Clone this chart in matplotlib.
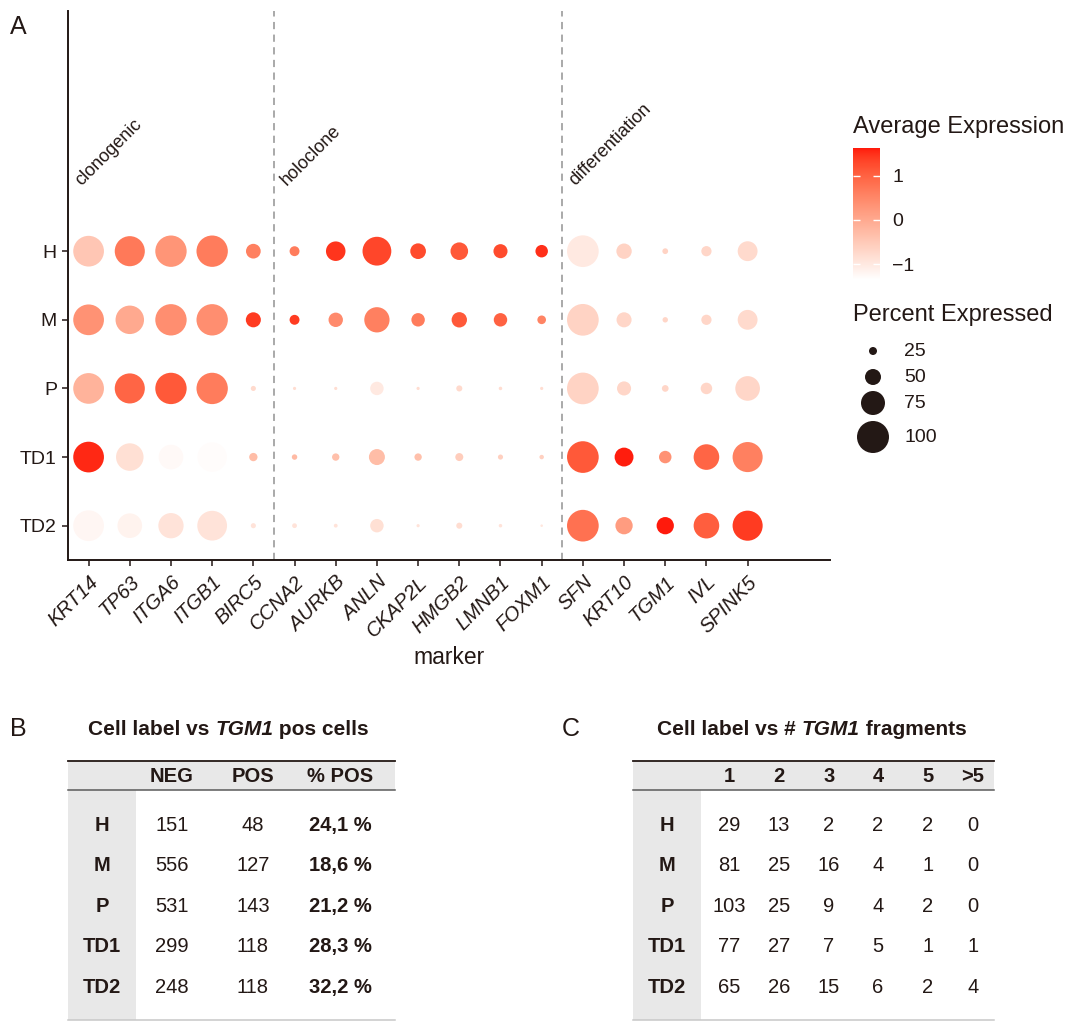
import numpy as np
import matplotlib
matplotlib.use("Agg")
import matplotlib.pyplot as plt
from matplotlib.colors import ListedColormap, Normalize
from matplotlib.patches import Rectangle
from matplotlib.colorbar import ColorbarBase

plt.rcParams["font.family"] = ["Liberation Sans", "DejaVu Sans"]
INK = "#231815"

# ---------------- Panel A data ----------------
cell_labels = ["H", "M", "P", "TD1", "TD2"]
markers = ["KRT14", "TP63", "ITGA6", "ITGB1", "BIRC5", "CCNA2", "AURKB", "ANLN",
           "CKAP2L", "HMGB2", "LMNB1", "FOXM1", "SFN", "KRT10", "TGM1", "IVL", "SPINK5"]
marker_groups = ["clonogenic", "holoclone", "differentiation"]
group_starts = [1, 6, 13]

# percent of cells expressing each marker (rows follow cell_labels)
pct_H = [96, 94, 98, 98, 46, 31, 61, 90, 49, 55, 44, 39, 99, 48, 18, 32, 62]
pct_M = [96, 89, 98, 98, 47, 31, 45, 79, 42, 48, 42, 27, 99, 47, 17, 32, 62]
pct_P = [96, 94, 98, 98, 16, 10, 10, 42, 10, 19, 11, 10, 99, 44, 21, 36, 77]
pct_TD1 = [96, 86, 77, 92, 26, 17, 23, 50, 23, 25, 16, 14, 99, 59, 39, 80, 94]
pct_TD2 = [96, 77, 79, 93, 16, 15, 12, 42, 10, 19, 11, 8, 99, 54, 54, 80, 94]

# scaled average expression
avg_H = [-0.45, 0.70, 0.30, 0.65, 0.60, 0.65, 1.45, 1.30, 1.25, 1.10, 1.25, 1.50,
         -1.00, -0.65, -0.65, -0.70, -0.75]
avg_M = [0.35, 0.00, 0.40, 0.40, 1.40, 1.40, 0.45, 0.60, 0.65, 1.10, 1.00, 0.55,
         -0.65, -0.70, -0.70, -0.70, -0.75]
avg_P = [-0.15, 0.95, 1.10, 0.65, -0.75, -0.80, -0.80, -1.00, -0.80, -0.75, -0.80, -0.80,
         -0.65, -0.70, -0.70, -0.70, -0.70]
avg_TD1 = [1.55, -0.85, -1.25, -1.30, -0.30, -0.25, -0.35, -0.30, -0.35, -0.55, -0.60, -0.60,
           1.10, 1.60, 0.35, 0.95, 0.60]
avg_TD2 = [-1.20, -1.15, -0.90, -0.90, -0.90, -0.90, -0.90, -0.85, -0.90, -0.80, -0.90, -0.95,
           0.80, 0.20, 1.65, 1.05, 1.40]

size_breaks = [25, 50, 75, 100]
color_ticks = [-1, 0, 1]
color_limits = (-1.35, 1.62)

# ---------------- Panel B data ----------------
tab_b_cols = ["NEG", "POS", "% POS"]
neg_cells = [151, 556, 531, 299, 248]
pos_cells = [48, 127, 143, 118, 118]
pct_pos = ["24,1 %", "18,6 %", "21,2 %", "28,3 %", "32,2 %"]

# ---------------- Panel C data ----------------
frag_cols = ["1", "2", "3", "4", "5", ">5"]
frag_H = [29, 13, 2, 2, 2, 0]
frag_M = [81, 25, 16, 4, 1, 0]
frag_P = [103, 25, 9, 4, 2, 0]
frag_TD1 = [77, 27, 7, 5, 1, 1]
frag_TD2 = [65, 26, 15, 6, 2, 4]


# ---------------- colour scale (Lab interpolation, white -> red) ----------------
def _to_lab(rgb):
    rgb = np.asarray(rgb, float)
    c = np.where(rgb <= 0.04045, rgb / 12.92, ((rgb + 0.055) / 1.055) ** 2.4)
    m = np.array([[0.4124, 0.3576, 0.1805], [0.2126, 0.7152, 0.0722], [0.0193, 0.1192, 0.9505]])
    xyz = m @ c / np.array([0.95047, 1.0, 1.08883])
    f = np.where(xyz > 0.008856, np.cbrt(xyz), 7.787 * xyz + 16 / 116)
    return np.array([116 * f[1] - 16, 500 * (f[0] - f[1]), 200 * (f[1] - f[2])])


def _from_lab(lab):
    L, a, b = lab
    fy = (L + 16) / 116
    fx = fy + a / 500
    fz = fy - b / 200
    f = np.array([fx, fy, fz])
    xyz = np.where(f ** 3 > 0.008856, f ** 3, (f - 16 / 116) / 7.787) * np.array([0.95047, 1.0, 1.08883])
    mi = np.array([[3.2406, -1.5372, -0.4986], [-0.9689, 1.8758, 0.0415], [0.0557, -0.2040, 1.0570]])
    c = mi @ xyz
    c = np.where(c <= 0.0031308, 12.92 * c, 1.055 * np.clip(c, 0, None) ** (1 / 2.4) - 0.055)
    return np.clip(c, 0, 1)


lo = _to_lab(matplotlib.colors.to_rgb("#FFFFFF"))
hi = _to_lab(matplotlib.colors.to_rgb("#FF1A0C"))
cmap = ListedColormap([_from_lab(lo + t * (hi - lo)) for t in np.linspace(0, 1, 256)])
norm = Normalize(*color_limits)


def dot_size(p):
    diam_pt = 0.2304 * np.asarray(p, float)
    return diam_pt ** 2


# ---------------- figure ----------------
fig = plt.figure(figsize=(10.69, 10.21), dpi=100)
ov = fig.add_axes([0, 0, 1, 1])
ov.set_xlim(0, 1069)
ov.set_ylim(1021, 0)
ov.axis("off")

ax = fig.add_axes([68 / 1069, 1 - 560 / 1021, (830 - 68) / 1069, (560 - 11) / 1021])
pct_rows = [pct_H, pct_M, pct_P, pct_TD1, pct_TD2]
avg_rows = [avg_H, avg_M, avg_P, avg_TD1, avg_TD2]
ypos = {lab: len(cell_labels) - i for i, lab in enumerate(cell_labels)}
xs, ys, ss, cs = [], [], [], []
for lab, prow, arow in zip(cell_labels, pct_rows, avg_rows):
    for j, (p, a) in enumerate(zip(prow, arow)):
        xs.append(j + 1)
        ys.append(ypos[lab])
        ss.append(p)
        cs.append(a)
ax.scatter(xs, ys, s=dot_size(ss), c=cs, cmap=cmap, norm=norm, linewidths=0, zorder=3)

for g0 in group_starts[1:]:
    ax.axvline(g0 - 0.5, color="#A3A3A3", lw=1.3, ls=(0, (4, 3)), zorder=1)
for name, g0 in zip(marker_groups, group_starts):
    ax.text(g0 - 0.18, 5.95, name, rotation=45, rotation_mode="anchor",
            ha="left", va="baseline", fontsize=13, color=INK)

ax.set_xlim(0.5, 19.0)
ax.set_ylim(0.5, 8.5)
ax.set_xticks(range(1, len(markers) + 1))
ax.set_xticklabels(markers, rotation=45, ha="right", rotation_mode="anchor",
                   fontsize=14.5, style="italic", color=INK)
ax.set_yticks([ypos[l] for l in cell_labels])
ax.set_yticklabels(cell_labels, fontsize=14, color=INK)
ax.tick_params(axis="both", length=4, width=1.1, color=INK, pad=4)
ax.tick_params(axis="x", pad=5)
for side in ["top", "right"]:
    ax.spines[side].set_visible(False)
for side in ["left", "bottom"]:
    ax.spines[side].set_color(INK)
    ax.spines[side].set_linewidth(1.4)
ax.set_xlabel("marker", fontsize=16.5, color=INK, labelpad=4)

# colour legend
ov.text(853, 127, "Average Expression", fontsize=17, color=INK, ha="left", va="center")
cax = fig.add_axes([853 / 1069, 1 - 280 / 1021, 27 / 1069, 132 / 1021])
cb = ColorbarBase(cax, cmap=cmap, norm=norm, orientation="vertical")
cb.outline.set_visible(False)
cb.set_ticks(color_ticks)
cb.set_ticklabels(["\u22121" if t < 0 else str(t) for t in color_ticks])
cax.tick_params(axis="y", direction="in", length=5, width=1, color="white",
                left=True, right=True, labelleft=False, labelright=True,
                labelsize=14, labelcolor=INK, pad=9)

# size legend
ov.text(853, 315, "Percent Expressed", fontsize=17, color=INK, ha="left", va="center")
leg_y = [351, 377, 403, 437]
ov.scatter([873] * len(size_breaks), leg_y, s=dot_size(size_breaks), color=INK, linewidths=0)
for yy, b in zip(leg_y, size_breaks):
    ov.text(904, yy, str(b), fontsize=14, color=INK, ha="left", va="center")

# panel letters
ov.text(10, 27, "A", fontsize=18, color=INK, ha="left", va="center")
ov.text(10, 729, "B", fontsize=18, color=INK, ha="left", va="center")
ov.text(562, 729, "C", fontsize=18, color=INK, ha="left", va="center")


def title_pieces(x0, y0, pieces):
    prev = None
    for txt, italic in pieces:
        kw = dict(fontsize=15, fontweight="bold", color=INK,
                  style="italic" if italic else "normal")
        if prev is None:
            prev = ov.text(x0, y0, txt, ha="left", va="center", **kw)
        else:
            prev = ov.annotate(txt, xy=(1, 0), xycoords=prev, ha="left", va="bottom", **kw)


GRAY = "#E8E8E8"
row_y = [825, 865, 906, 946, 987]
head_y = 776


def draw_table(x0, x1, label_x1, col_x, header, rows, bold_last=False):
    ov.add_patch(Rectangle((x0, 761), x1 - x0, 29, facecolor=GRAY, edgecolor="none"))
    ov.add_patch(Rectangle((x0, 790), label_x1 - x0, 230, facecolor=GRAY, edgecolor="none"))
    ov.plot([x0, x1], [761, 761], color=INK, lw=1.3)
    ov.plot([x0, x1], [790, 790], color="#5A5A5A", lw=1.1)
    ov.plot([x0, x1], [1020, 1020], color="#C8C8C8", lw=1.1)
    lab_cx = (x0 + label_x1) / 2
    for cx, h in zip(col_x, header):
        ov.text(cx, head_y, h, fontsize=14.5, fontweight="bold", color=INK, ha="center", va="center")
    for yy, lab, vals in zip(row_y, cell_labels, rows):
        ov.text(lab_cx, yy, lab, fontsize=14.5, fontweight="bold", color=INK, ha="center", va="center")
        for k, (cx, v) in enumerate(zip(col_x, vals)):
            bold = bold_last and k == len(vals) - 1
            ov.text(cx, yy, str(v), fontsize=14.5, color=INK, ha="center", va="center",
                    fontweight="bold" if bold else "normal")


# Panel B
title_pieces(88, 729, [("Cell label vs ", False), ("TGM1", True), (" pos cells", False)])
b_rows = [[n, p, q] for n, p, q in zip(neg_cells, pos_cells, pct_pos)]
draw_table(68, 395, 136, [172, 253, 340], tab_b_cols, b_rows, bold_last=True)

# Panel C
title_pieces(657, 729, [("Cell label vs # ", False), ("TGM1", True), (" fragments", False)])
c_rows = [frag_H, frag_M, frag_P, frag_TD1, frag_TD2]
draw_table(633, 994, 701, [729, 779, 829, 878, 928, 973], frag_cols, c_rows)

fig.savefig("out.png", dpi=100)
